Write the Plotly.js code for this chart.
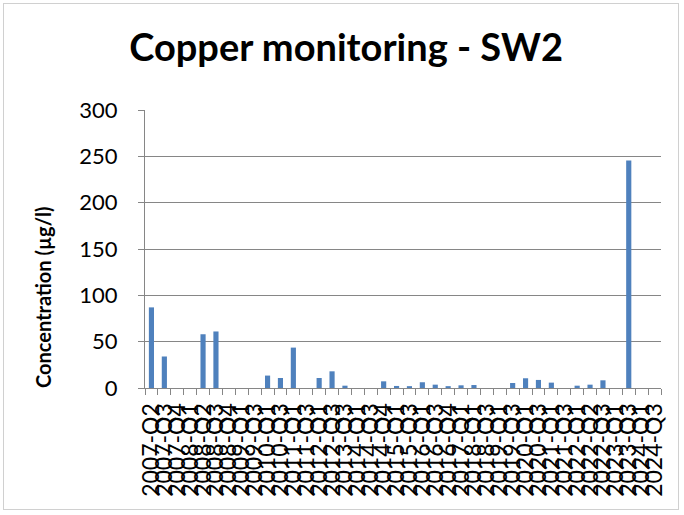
<!DOCTYPE html>
<html>
<head>
<meta charset="utf-8">
<script src="https://cdn.plot.ly/plotly-3.0.1.min.js"></script>
<style>
  html, body { margin: 0; padding: 0; background: #fff; }
  #wrap { position: relative; width: 684px; height: 515px; }
  #chart { width: 684px; height: 515px; }
  #frame { position: absolute; left: 3px; top: 3px; width: 676px; height: 507px;
           border: 1px solid #d0d0d0; pointer-events: none; box-sizing: border-box; }
</style>
</head>
<body>
<div id="wrap">
  <div id="chart"></div>
  <div id="frame"></div>
</div>
<script>
// Sampling periods (category labels)
const periods = [
  "2007-Q2","2007-Q3","2007-Q4","2008-Q1","2008-Q2","2008-Q3","2008-Q4","2009-Q1","2009-Q3","2010-Q1",
  "2010-Q3","2011-Q1","2011-Q3","2012-Q1","2012-Q3","2013-Q3","2014-Q1","2014-Q3","2014-Q4","2015-Q1",
  "2015-Q3","2016-Q1","2016-Q3","2016-Q4","2017-Q1","2018-Q1","2018-Q3","2019-Q1","2019-Q3","2020-Q1",
  "2020-Q3","2021-Q1","2021-Q3","2022-Q1","2022-Q2","2022-Q3","2023-Q1","2023-Q3","2024-Q1","2024-Q3"
];
// Copper concentration (µg/l); null = no value
const copper = [
  87, 34, null, null, 58, 61, null, null, null, 13.4,
  10.8, 43.6, null, 10.8, 18, 2.5, null, null, 7.2, 2.2,
  2, 6.2, 3.6, 2, 2.9, 3.2, null, null, 5.4, 10.5,
  8.7, 5.8, null, 2.5, 3.6, 8.3, null, 245.6, null, null
];
const yTicks = [0, 50, 100, 150, 200, 250, 300];
const chartTitle = "Copper monitoring - SW2";
const yTitle = "Concentration (µg/l)";

const FONT = "Lato, 'Liberation Sans', sans-serif";

const trace = {
  type: "bar",
  x: periods,
  y: copper,
  marker: { color: "#4f81bd", line: { width: 0 } },
  hoverinfo: "x+y"
};

const layout = {
  width: 684,
  height: 515,
  margin: { l: 145, r: 23, t: 110, b: 127 },
  paper_bgcolor: "#ffffff",
  plot_bgcolor: "#ffffff",
  showlegend: false,
  bargap: 0.6,
  font: { family: FONT, color: "#000000" },
  title: {
    text: "<b>" + chartTitle + "</b>",
    font: { family: FONT, size: 38, color: "#000000" },
    x: 0.506, xanchor: "center",
    y: 0.908, yanchor: "middle"
  },
  xaxis: {
    type: "category",
    tickmode: "array",
    tickvals: periods,
    ticktext: periods,
    tickangle: -90,
    tickfont: { family: FONT, size: 23, color: "#000000" },
    ticks: "outside",
    tickson: "boundaries",
    ticklen: 6,
    tickcolor: "#868686",
    ticklabelstandoff: 5,
    showline: true,
    linecolor: "#868686",
    linewidth: 1,
    showgrid: false,
    automargin: false,
    range: [-0.5, periods.length - 0.5]
  },
  yaxis: {
    range: [0, 300],
    tickmode: "array",
    tickvals: yTicks,
    ticktext: yTicks.map(String),
    tickfont: { family: FONT, size: 22, color: "#000000" },
    ticks: "outside",
    ticklen: 6,
    tickcolor: "#868686",
    ticklabelstandoff: 16,
    showline: true,
    linecolor: "#868686",
    linewidth: 1,
    showgrid: true,
    gridcolor: "#868686",
    gridwidth: 1,
    zeroline: false,
    automargin: false
  },
  annotations: [{
    text: "<b>" + yTitle + "</b>",
    textangle: -90,
    xref: "paper", yref: "paper",
    x: -0.198, y: 0.327,
    xanchor: "center", yanchor: "middle",
    showarrow: false,
    font: { family: FONT, size: 20, color: "#000000" }
  }]
};

Plotly.newPlot("chart", [trace], layout, { displayModeBar: false, staticPlot: true });
</script>
</body>
</html>
